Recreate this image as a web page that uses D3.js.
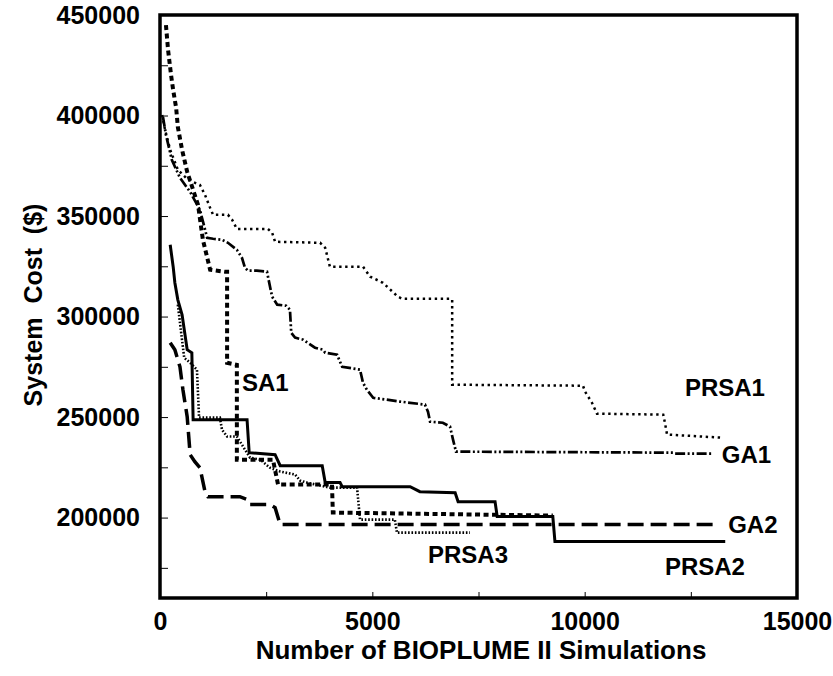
<!DOCTYPE html>
<html>
<head>
<meta charset="utf-8">
<script src="https://cdn.jsdelivr.net/npm/d3@7"></script>
<style>
  body { margin: 0; background: #fff; }
  text { font-family: "Liberation Sans", Arial, sans-serif; font-weight: bold; fill: #000; }
</style>
</head>
<body>
<svg id="chart" width="833" height="676"></svg>
<script>
// values (x = number of simulations, y = system cost in $)
const prsa1X = [50, 120, 240, 420, 660, 940, 1060, 1180, 1250, 1600, 1700, 1810, 2540, 2640, 2710, 3770, 3890, 4000, 4780, 4950, 5250, 5600, 5700, 6830, 6880, 6880, 9960, 10010, 10170, 10290, 11850, 11890, 11940, 13190];
const prsa1Y = [400300, 392800, 382900, 373000, 368000, 365500, 360500, 354100, 350600, 350600, 348100, 343600, 343600, 341700, 337200, 336700, 334200, 324800, 324800, 319800, 316800, 309900, 308900, 308900, 308300, 266100, 265600, 262600, 257200, 251700, 251200, 247200, 241300, 239800];

const ga1X = [70, 140, 280, 470, 710, 940, 1110, 1250, 1460, 1600, 1810, 1930, 2000, 2070, 2280, 2520, 2590, 2640, 2760, 2970, 3060, 3090, 3180, 3370, 3650, 3840, 3890, 4170, 4290, 4710, 4780, 4870, 5020, 5650, 6240, 6310, 6360, 6660, 6830, 6900, 6970, 12080, 12130, 13020];
const ga1Y = [399300, 390400, 377900, 369000, 362000, 353100, 339200, 338700, 338200, 336700, 333200, 329200, 324300, 322800, 322800, 322300, 314900, 309900, 305900, 305400, 303400, 291900, 289500, 288500, 284500, 283500, 282000, 281000, 275000, 273600, 267100, 263600, 259600, 257700, 256200, 252700, 247700, 247200, 245200, 238800, 232800, 232300, 231800, 231800];

const sa1X = [140, 190, 260, 310, 380, 420, 520, 640, 780, 895, 1010, 1180, 1530, 1580, 1580, 1810, 1810, 2660, 2780, 4050, 4070, 9250];
const sa1Y = [445000, 432600, 420200, 412700, 403800, 394300, 382900, 372000, 363000, 355600, 338200, 323300, 322300, 322300, 277000, 276000, 228800, 228800, 216400, 216400, 202500, 201000];

const prsa2X = [240, 310, 350, 420, 520, 640, 750, 780, 2050, 2100, 2710, 2830, 3820, 3890, 4240, 4290, 5890, 6120, 6950, 7020, 7890, 7940, 9250, 9300, 13310];
const prsa2Y = [335700, 324800, 316800, 308300, 300900, 283500, 282000, 248700, 248700, 232300, 231300, 225800, 225800, 217400, 217400, 215400, 215400, 212900, 212400, 207900, 207900, 200500, 200500, 188100, 188100];

const prsa3X = [420, 490, 570, 710, 870, 920, 1410, 1460, 1580, 1810, 2120, 2360, 2590, 2830, 3180, 3300, 3460, 4000, 4640, 4710, 5530, 5580, 7300];
const prsa3Y = [305900, 293400, 279500, 277000, 273600, 249700, 249700, 243700, 240300, 240300, 229800, 228800, 224800, 222900, 221400, 218400, 217400, 214900, 214900, 199000, 199000, 192500, 192500];

const ga2X = [240, 350, 470, 540, 640, 710, 820, 940, 1060, 1130, 1880, 2050, 2120, 2590, 2710, 2830, 13070];
const ga2Y = [287000, 283500, 275000, 263600, 250200, 231300, 227800, 224800, 212900, 210400, 210400, 209000, 206500, 206500, 205000, 196500, 196500];

const labelNames = ["SA1", "PRSA1", "GA1", "GA2", "PRSA2", "PRSA3"];
const labelX = [1930, 12360, 13230, 13380, 11890, 6310];
const labelY = [267100, 264600, 231300, 196500, 175700, 181600];

const xTicks = [0, 5000, 10000, 15000];
const yTicks = [200000, 250000, 300000, 350000, 400000, 450000];

const svg = d3.select("#chart");
const plotLeft = 160, plotRight = 797, plotTop = 15, plotBottom = 598;

const x = d3.scaleLinear().domain([0, 15000]).range([plotLeft, plotRight]);
const y = d3.scaleLinear().domain([160000, 450000]).range([plotBottom, plotTop]);

const series = [
  { x: prsa1X, y: prsa1Y, width: 2.5, dash: "2.4 3.6" },
  { x: ga1X, y: ga1Y, width: 2.7, dash: "10 2.5 2 2.5 2 2.5" },
  { x: sa1X, y: sa1Y, width: 4, dash: "5 3.5" },
  { x: prsa3X, y: prsa3Y, width: 2.6, dash: "1.6 1.8" },
  { x: ga2X, y: ga2Y, width: 3.5, dash: "16 7" },
  { x: prsa2X, y: prsa2Y, width: 3, dash: null }
];

const line = d3.line()
  .x(d => x(d[0]))
  .y(d => y(d[1]));

svg.selectAll("path.series")
  .data(series)
  .join("path")
  .attr("class", "series")
  .attr("fill", "none")
  .attr("stroke", "#000")
  .attr("stroke-width", d => d.width)
  .attr("stroke-dasharray", d => d.dash)
  .attr("d", d => line(d.x.map((v, i) => [v, d.y[i]])));

// inner minor ticks
svg.append("g")
  .attr("transform", `translate(0,${plotBottom})`)
  .call(d3.axisTop(x).tickValues(d3.range(0, 15001, 2500)).tickSize(6).tickFormat(""))
  .call(g => g.select(".domain").remove());
svg.append("g")
  .attr("transform", `translate(${plotLeft},0)`)
  .call(d3.axisRight(y).tickValues(d3.range(175000, 450001, 25000)).tickSize(8).tickFormat(""))
  .call(g => g.select(".domain").remove());

// tick labels
svg.append("g")
  .attr("transform", `translate(0,${plotBottom})`)
  .call(d3.axisBottom(x).tickValues(xTicks).tickSize(0).tickPadding(14).tickFormat(d3.format("d")))
  .call(g => g.select(".domain").remove())
  .selectAll("text").style("font-size", "25px");
svg.append("g")
  .attr("transform", `translate(${plotLeft},0)`)
  .call(d3.axisLeft(y).tickValues(yTicks).tickSize(0).tickPadding(20).tickFormat(d3.format("d")))
  .call(g => g.select(".domain").remove())
  .selectAll("text").style("font-size", "25px");

svg.append("rect")
  .attr("x", plotLeft).attr("y", plotTop)
  .attr("width", plotRight - plotLeft).attr("height", plotBottom - plotTop)
  .attr("fill", "none").attr("stroke", "#000").attr("stroke-width", 3.5);

svg.selectAll("text.curve")
  .data(labelNames)
  .join("text")
  .attr("class", "curve")
  .attr("x", (d, i) => x(labelX[i]))
  .attr("y", (d, i) => y(labelY[i]))
  .attr("dy", "0.36em")
  .style("font-size", "24px")
  .text(d => d);

svg.append("text")
  .attr("x", 481)
  .attr("y", 659)
  .attr("text-anchor", "middle")
  .style("font-size", "26px")
  .text("Number of BIOPLUME II Simulations");

svg.append("text")
  .attr("transform", "translate(33,305) rotate(-90)")
  .attr("text-anchor", "middle")
  .attr("dy", "0.36em")
  .style("font-size", "25px")
  .style("white-space", "pre")
  .text("System  Cost  ($)");
</script>
</body>
</html>
